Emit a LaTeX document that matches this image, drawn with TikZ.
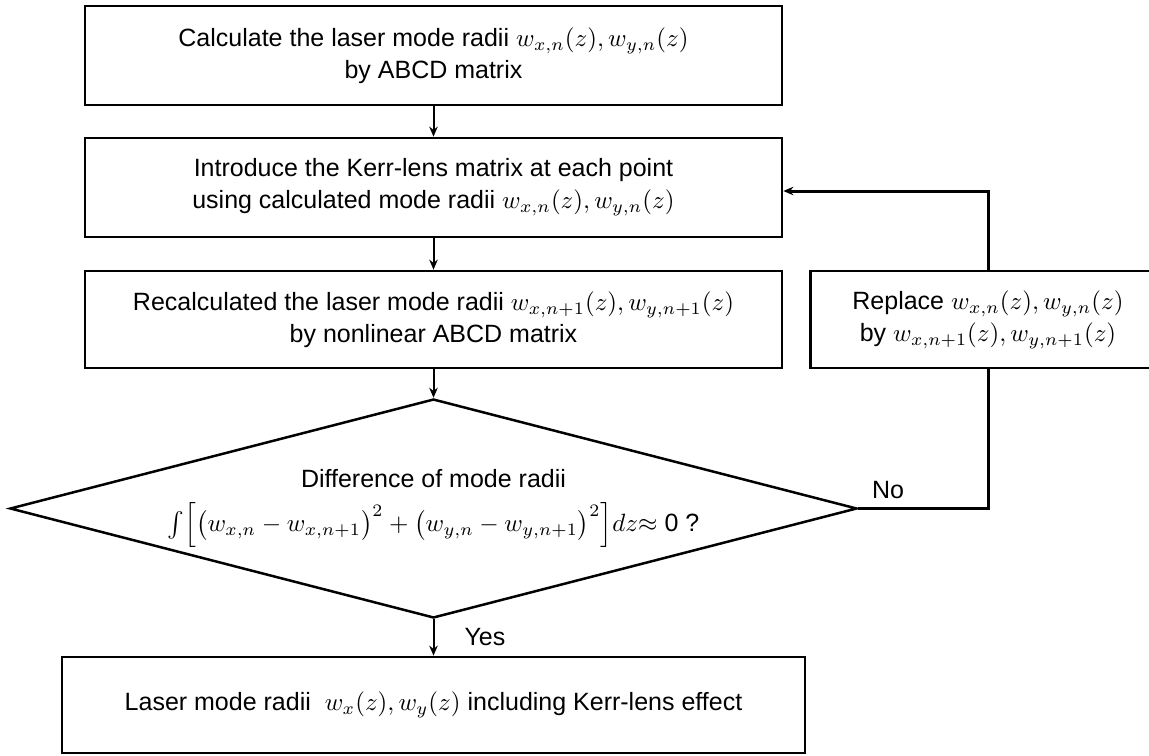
\documentclass[tikz,border=0pt]{standalone}
\usepackage{amsmath}
\usepackage{fontspec}
\setmainfont{Liberation Sans}
\usetikzlibrary{arrows.meta, shapes.geometric, positioning}

\tikzset{
  stepbox/.style={draw, line width=1.1pt, align=center, inner sep=0pt},
  decision/.style={draw, diamond, aspect=3.87, line width=1pt, align=center, inner sep=0pt},
  flow/.style={->, line width=0.8pt},
  loopline/.style={line width=1.2pt},
}

\begin{document}
\begin{tikzpicture}[x=0.4pt, y=-0.4pt, >={Stealth[length=4pt,width=3.4pt]},
    font=\fontsize{10}{12.8}\selectfont]
    \useasboundingbox (0,0) rectangle (1149,755);
    \clip (0,0) rectangle (1149,755);

    % main chain of steps
    \node[stepbox, minimum width=278.8pt, minimum height=39.6pt] (calc) at (433.5,55.5)
        {Calculate the laser mode radii $w_{x,n}(z),w_{y,n}(z)$\\by ABCD matrix};
    \node[stepbox, minimum width=278.8pt, minimum height=39.6pt] (kerr) at (433.5,187.5)
        {Introduce the Kerr-lens matrix at each point\\using calculated mode radii $w_{x,n}(z),w_{y,n}(z)$};
    \node[stepbox, minimum width=278.8pt, minimum height=38.8pt] (recalc) at (433.5,319.5)
        {Recalculated the laser mode radii $w_{x,n+1}(z),w_{y,n+1}(z)$\\by nonlinear ABCD matrix};
    \node[decision, minimum width=338.8pt, minimum height=87.6pt] (check) at (433.5,508.5)
        {Difference of mode radii\\[5pt]
         $\int\Bigl[\bigl(w_{x,n}-w_{x,n+1}\bigr)^2+\bigl(w_{y,n}-w_{y,n+1}\bigr)^2\Bigr]dz{\approx}$ 0 ?};
    \node[stepbox, minimum width=297.2pt, minimum height=38.4pt] (result) at (433.5,705)
        {Laser mode radii\ \ $w_x(z),w_y(z)$ including Kerr-lens effect};

    % side box of the loop, runs past the right edge
    \node[stepbox, minimum width=142pt, minimum height=38.8pt] (replace) at (988,319.5)
        {Replace $w_{x,n}(z),w_{y,n}(z)$\\by $w_{x,n+1}(z),w_{y,n+1}(z)$};

    \draw[flow] (calc) -- (kerr);
    \draw[flow] (kerr) -- (recalc);
    \draw[flow] (recalc) -- (check);
    \draw[flow] (check) -- node[right=12pt, inner sep=0pt] {Yes} (result);

    % iterate until the radii settle
    \draw[loopline] (check.east) -- node[above, pos=0.23] {No} (check.east -| replace.south) -- (replace.south);
    \draw[loopline, ->] (replace.north) |- ([yshift=-1.4pt]kerr.east);
\end{tikzpicture}
\end{document}
